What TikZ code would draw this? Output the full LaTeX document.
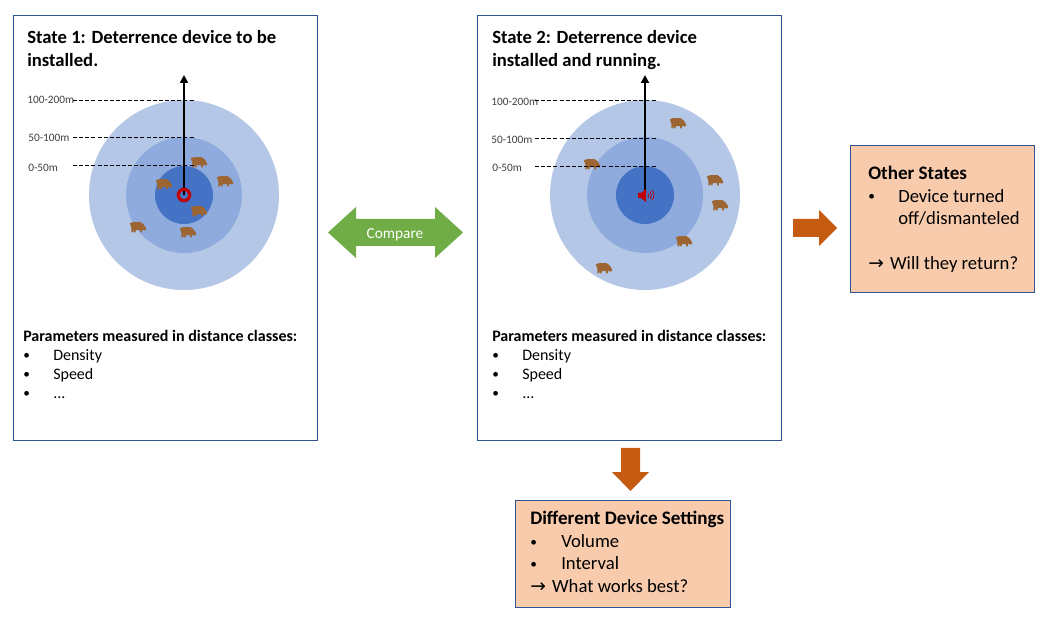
\documentclass[tikz,border=0pt]{standalone}
\usepackage{fontspec}
\setmainfont{Carlito}
\newfontfamily\symb{DejaVu Sans}
\usetikzlibrary{arrows.meta}
\definecolor{ringA}{HTML}{B4C7E7}
\definecolor{ringB}{HTML}{8FAADC}
\definecolor{ringC}{HTML}{4472C4}
\definecolor{edgeblue}{HTML}{2F5597}
\definecolor{cowc}{HTML}{9C6532}
\definecolor{orangeA}{HTML}{C55A11}
\definecolor{greenA}{HTML}{70AD47}
\definecolor{peach}{HTML}{F8CBAD}
\definecolor{redA}{HTML}{C00000}
\newcommand{\Arr}{{\symb\fontsize{14}{14}\selectfont→}\kern1.5pt}
\newcommand{\Bul}{{\fontsize{10}{12}\selectfont •}}
\tikzset{
  x=0.75pt,y=-0.75pt,
  panel/.style={draw=edgeblue,line width=0.6pt,fill=white,anchor=north west,minimum width=228pt,minimum height=318.75pt,inner sep=0pt},
  notebox/.style={draw=edgeblue,line width=0.6pt,fill=peach,anchor=north west,inner sep=0pt},
  txt/.style={anchor=base west,inner sep=0pt,font=\fontsize{12}{14}\selectfont},
  big/.style={anchor=base west,inner sep=0pt,font=\fontsize{14}{16}\selectfont},
  bigb/.style={anchor=base west,inner sep=0pt,font=\fontsize{14.3}{16}\selectfont\bfseries},
  title/.style={anchor=north west,inner sep=0pt,align=left,font=\fontsize{14}{17.25}\selectfont\bfseries},
  dist/.style={anchor=base west,inner sep=0pt,font=\fontsize{8.5}{10}\selectfont,text=black!75},
  guide/.style={draw=black,dash pattern=on 3pt off 1.6pt,line width=0.5pt},
  axis/.style={draw=black,line width=1.5pt,-{Triangle[length=6pt,width=6pt]}},
  cow/.pic={\fill[cowc,scale=1.1] (-7.5,-3.5) -- (-4,-4.5) -- (2,-4.5) -- (5,-2.5) -- (7.5,1.5) -- (7,3) -- (4.5,3) -- (3.5,2) -- (3.5,5) -- (2,5) -- (1.8,2.8) -- (-2,2.8) -- (-2.2,5) -- (-3.4,5) -- (-3.6,2.8) -- (-4.6,5) -- (-6,5) -- (-6,0.5) -- cycle;}
}
\begin{document}
\begin{tikzpicture}
\useasboundingbox (0,0) rectangle (1046,623);
\fill[white] (0,0) rectangle (1046,623);
% panels
\node[panel] (p1) at (13,15) {};
\node[panel] (p2) at (477,15) {};
% titles
\node[title] (t1) at (27,30) {State 1: Deterrence device to be\\installed.};
\node[title] (t2) at (492,30) {State 2: Deterrence device\\installed and running.};
% rings
\coordinate (c1) at (184,195);
\coordinate (c2) at (645,195);
\coordinate (a1) at (184,75);
\coordinate (a2) at (645,75);
\fill[ringA] (c1) circle[radius=95];
\fill[ringB] (c1) circle[radius=58];
\fill[ringC] (c1) circle[radius=29];
\fill[ringA] (c2) circle[radius=95];
\fill[ringB] (c2) circle[radius=58];
\fill[ringC] (c2) circle[radius=29];
% cows
\foreach \x/\y in {199/162,225/181,164/184,199/211,138/227,188/232,678/123,592/164,715/180,720/205,684/241,604/268}
  \pic at (\x,\y) {cow};
% distance labels left
\node[dist] (d11) at (27,104) {100-200m};
\node[dist] (d12) at (28,142) {50-100m};
\node[dist] (d13) at (28,171.5) {0-50m};
\coordinate (e11) at (194,100);
\coordinate (e12) at (194,137);
\coordinate (e13) at (194,165);
\coordinate (s11) at (73,100);
\coordinate (s12) at (73,137);
\coordinate (s13) at (73,165);
\draw[guide] (s11) -- (e11);
\draw[guide] (s12) -- (e12);
\draw[guide] (s13) -- (e13);
% distance labels right
\node[dist] (d21) at (491,105.5) {100-200m};
\node[dist] (d22) at (491,143.5) {50-100m};
\node[dist] (d23) at (492,171.5) {0-50m};
\coordinate (e21) at (656,100);
\coordinate (e22) at (656,138);
\coordinate (e23) at (656,166);
\coordinate (s21) at (535,100);
\coordinate (s22) at (535,138);
\coordinate (s23) at (535,166);
\draw[guide] (s21) -- (e21);
\draw[guide] (s22) -- (e22);
\draw[guide] (s23) -- (e23);
% axes
\draw[axis] (c1) -- (a1);
\draw[axis] (c2) -- (a2);
% device icons
\draw[redA,line width=2.4pt] (c1) circle[radius=5.7];
\fill[redA] (638,193) -- (641,193) -- (646,189) -- (646,202) -- (641,198) -- (638,198) -- cycle;
\draw[redA,line width=0.5pt] (648,193) arc[start angle=-40,end angle=40,radius=4] (650,191.5) arc[start angle=-40,end angle=40,radius=6] (652,190) arc[start angle=-40,end angle=40,radius=8];
% parameter text
\node[txt,font=\fontsize{12}{14}\selectfont\bfseries] (l1) at (23,342) {Parameters measured in distance classes:};
\node[txt,font=\fontsize{12}{14}\selectfont\bfseries] (l2) at (492,342) {Parameters measured in distance classes:};
\foreach \xa/\xb/\nm in {23/53/a,492/522/b}{
  \node[txt] (\nm b1) at (\xa,360) {\Bul};
  \node[txt] (\nm b2) at (\xa,379) {\Bul};
  \node[txt] (\nm b3) at (\xa,398) {\Bul};
  \node[txt] (\nm i1) at (\xb,361) {Density};
  \node[txt] (\nm i2) at (\xb,380) {Speed};
  \node[txt] (\nm i3) at (\xb,399) {...};
}
% compare arrow
\fill[greenA] (328,232.5) -- (356,207) -- (356,219) -- (435,219) -- (435,207) -- (463,232.5) -- (435,258) -- (435,246) -- (356,246) -- (356,258) -- cycle;
\node[anchor=base,inner sep=0pt,text=white,font=\fontsize{11.5}{13}\selectfont] (cmp) at (395,239) {Compare};
% orange arrows
\fill[orangeA] (793,219) -- (819,219) -- (819,210) -- (837,228) -- (819,246) -- (819,237) -- (793,237) -- cycle;
\fill[orangeA] (621,448) -- (640,448) -- (640,472) -- (649,472) -- (630.5,491) -- (612,472) -- (621,472) -- cycle;
% other states
\node[notebox,minimum width=138pt,minimum height=110.25pt] (o) at (850,145) {};
\node[bigb] (ot) at (868,180) {Other States};
\node[big] (ob) at (868,201) {\Bul};
\node[big] (oi1) at (898,203) {Device turned};
\node[big] (oi2) at (898,225) {off/dismanteled};
\node[big] (oq) at (868,270) {\Arr\ Will they return?};
% settings
\node[notebox,minimum width=161.25pt,minimum height=80.25pt] (s) at (515,500) {};
\node[bigb] (st) at (530,524) {Different Device Settings};
\node[big] (sb1) at (530,546) {\Bul};
\node[big] (sb2) at (530,568) {\Bul};
\node[big] (si1) at (561,547) {Volume};
\node[big] (si2) at (561,569) {Interval};
\node[big] (sq) at (530,592) {\Arr\ What works best?};
\end{tikzpicture}
\end{document}
